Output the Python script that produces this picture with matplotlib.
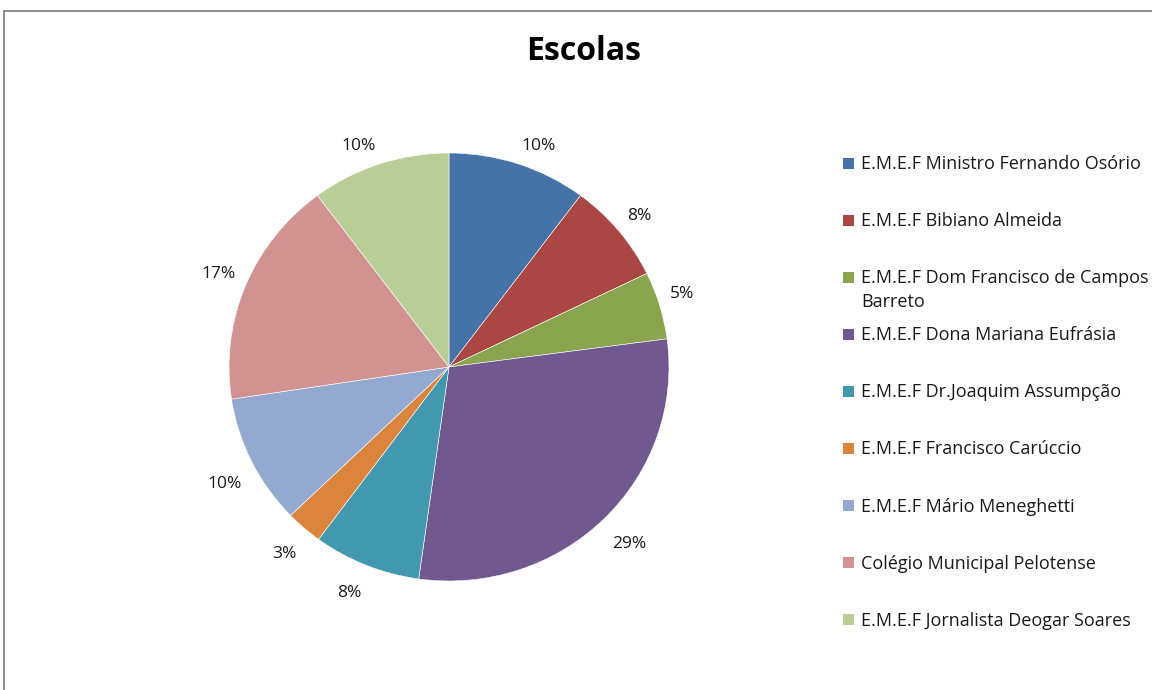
import matplotlib
matplotlib.use("Agg")
import numpy as np
import matplotlib.pyplot as plt
from matplotlib.patches import Rectangle

plt.rcParams['font.family'] = ['Open Sans', 'DejaVu Sans']

title = "Escolas"
schools = [
    "E.M.E.F Ministro Fernando Osório",
    "E.M.E.F Bibiano Almeida",
    "E.M.E.F Dom Francisco de Campos\nBarreto",
    "E.M.E.F Dona Mariana Eufrásia",
    "E.M.E.F Dr.Joaquim Assumpção",
    "E.M.E.F Francisco Carúccio",
    "E.M.E.F Mário Meneghetti",
    "Colégio Municipal Pelotense",
    "E.M.E.F Jornalista Deogar Soares",
]
shares = [10.2, 7.6, 5.1, 29.3, 7.9, 2.7, 9.8, 17.2, 10.2]
colors = ["#4572A7", "#AA4643", "#89A54E", "#71588F", "#4198AF",
          "#DB843D", "#93A9CF", "#D19392", "#B9CD96"]

W, H = 1152, 690
fig = plt.figure(figsize=(W / 100, H / 100), dpi=100)

def fx(px):
    return px / W

def fy(py):
    return 1 - py / H

# outer chart border (only left and top visible)
fig.add_artist(Rectangle((fx(4), fy(700)), fx(1200), (700 - 11) / H,
                         transform=fig.transFigure, fill=False,
                         edgecolor="#868686", linewidth=1.3))

fig.text(fx(584), fy(51), title, ha="center", va="center",
         fontsize=23, fontweight="bold", color="black")

cx, cy, rx, ry = 449, 367, 220, 214
ax = fig.add_axes([fx(cx - rx), fy(cy + ry), 2 * rx / W, 2 * ry / H])
wedges, texts, autotexts = ax.pie(
    shares, colors=colors, startangle=90, counterclock=False,
    autopct="%1.0f%%", pctdistance=1.1, radius=1,
    wedgeprops=dict(edgecolor="white", linewidth=0.4),
    textprops=dict(fontsize=12.5, color="#1a1a1a"))
ax.set_aspect("auto")
ax.set_xlim(-1, 1)
ax.set_ylim(-1, 1)
ax.axis("off")

# place labels outside, anchored by their nearest corner (Excel style)
for w, t in zip(wedges, autotexts):
    ang = np.deg2rad((w.theta1 + w.theta2) / 2)
    x, y = 1.05 * np.cos(ang), 1.05 * np.sin(ang)
    if y < 0:
        y -= 0.045
    t.set_position((x, y))
    t.set_ha("left" if x > 0 else "right")
    t.set_va("bottom" if y > 0 else "top")

# legend
row0, step, lgap = 163, 57.1, 24
for i, (name, col) in enumerate(zip(schools, colors)):
    yc = row0 + i * step
    fig.add_artist(Rectangle((fx(843), fy(yc + 5.5)), 11 / W, 11 / H,
                             transform=fig.transFigure, facecolor=col,
                             edgecolor="none"))
    lines = name.split("\n")
    for k, line in enumerate(lines):
        fig.text(fx(861), fy(yc + 6 + k * lgap), line, ha="left",
                 va="baseline", fontsize=13, color="#1a1a1a")

fig.savefig("out.png", dpi=100)
